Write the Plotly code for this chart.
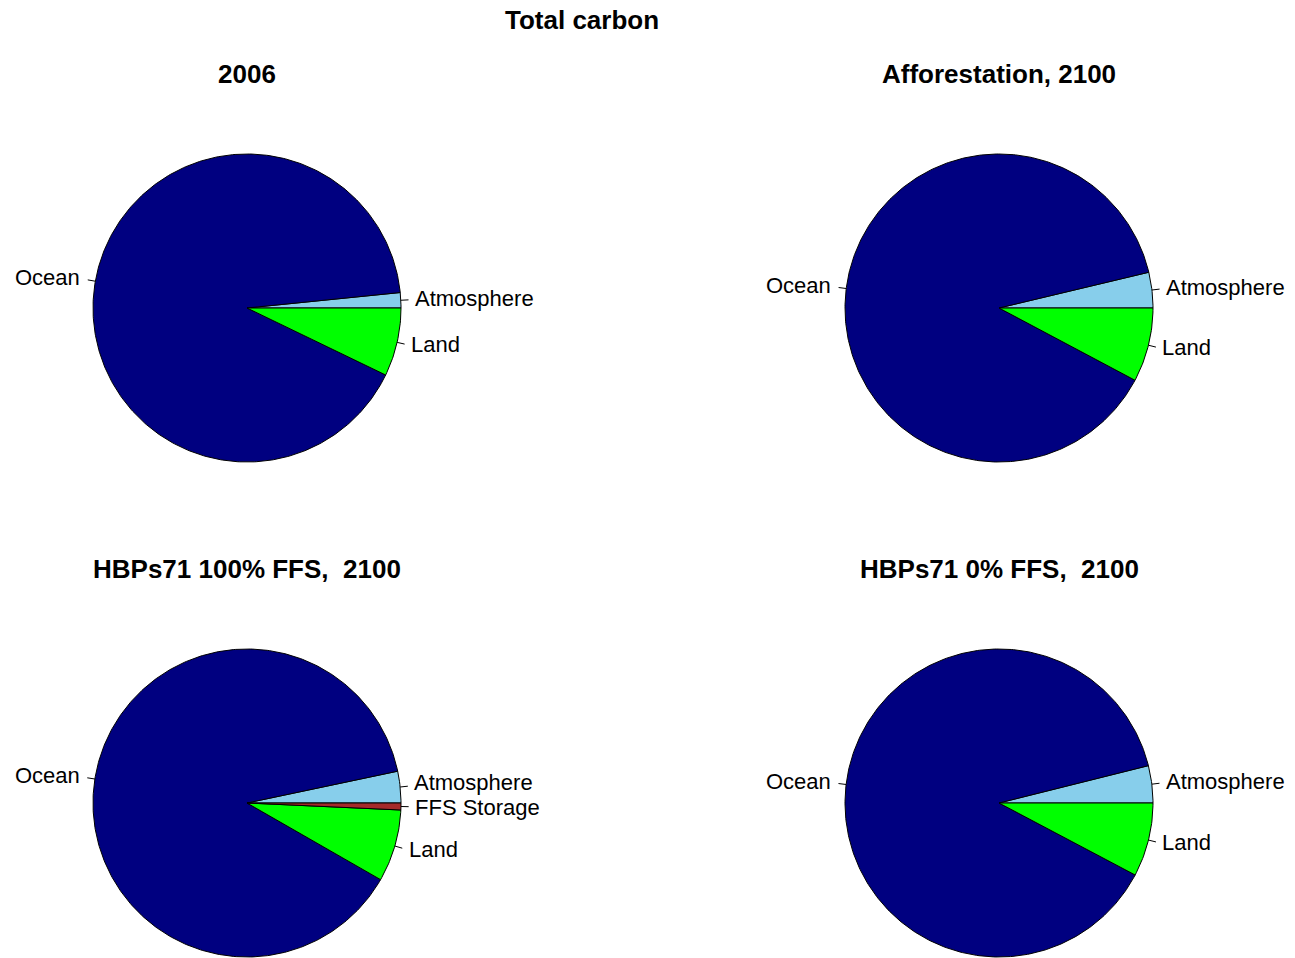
import numpy as np
import plotly.graph_objects as go

# carbon stocks (PgC), pie order is counterclockwise from 3 o'clock
titles = ["2006", "Afforestation, 2100", "HBPs71 100% FFS,  2100", "HBPs71 0% FFS,  2100"]
labels_3 = ["Atmosphere", "Ocean", "Land"]
labels_4 = ["Atmosphere", "Ocean", "Land", "FFS Storage"]
vals_2006 = [800, 45600, 3580]
vals_affor = [1900, 45100, 3960]
vals_hbp100 = [1690, 45100, 3860, 370]
vals_hbp0 = [1990, 45100, 3950]

colors = {"Atmosphere": "#87CEEB", "Ocean": "#000080", "Land": "#00FF00", "FFS Storage": "#A52A2A"}

W, H = 1295, 958
PX = 192.5          # pixels per unit (R pie uses radius 0.8 inside [-1, 1])
R = 0.8
MIN_GAP = 25        # px between label centres on the same side
FONT = "Liberation Sans, Arial, sans-serif"

panels = [
    (titles[0], labels_3, vals_2006, 247, 308),
    (titles[1], labels_3, vals_affor, 999, 308),
    (titles[2], labels_4, vals_hbp100, 247, 803),
    (titles[3], labels_3, vals_hbp0, 999, 803),
]

fig = go.Figure()
annotations = []
shapes = []

for i, (title, labs, vals, cx, cy) in enumerate(panels):
    n = i + 1
    xa = "x" if n == 1 else "x%d" % n
    ya = "y" if n == 1 else "y%d" % n
    ylo = -min(1.0, (H - cy) / PX)
    fig.update_layout(**{
        ("xaxis" if n == 1 else "xaxis%d" % n): dict(
            domain=[(cx - PX) / W, (cx + PX) / W], range=[-1, 1],
            visible=False, anchor=ya),
        ("yaxis" if n == 1 else "yaxis%d" % n): dict(
            domain=[max(0, 1 - (cy + PX) / H), 1 - (cy - PX) / H], range=[ylo, 1],
            visible=False, anchor=xa),
    })

    v = np.array(vals, dtype=float)
    cum = np.concatenate([[0], np.cumsum(v) / v.sum()]) * 2 * np.pi
    labpos = []
    for k, lab in enumerate(labs):
        a0, a1 = cum[k], cum[k + 1]
        t = np.linspace(a0, a1, max(3, int((a1 - a0) / (2 * np.pi) * 400)))
        px = np.concatenate([[0], R * np.cos(t), [0]])
        py = np.concatenate([[0], R * np.sin(t), [0]])
        fig.add_trace(go.Scatter(
            x=px, y=py, xaxis=xa, yaxis=ya, mode="lines", fill="toself",
            fillcolor=colors[lab], line=dict(color="black", width=1),
            hoverinfo="text", text=lab, showlegend=False))
        mid = (a0 + a1) / 2
        c, s = np.cos(mid), np.sin(mid)
        shapes.append(dict(type="line", xref=xa, yref=ya,
                           x0=R * c, y0=R * s, x1=1.05 * R * c, y1=1.05 * R * s,
                           line=dict(color="black", width=1)))
        labpos.append([lab, c, 1.1 * R * s * PX])

    # nudge crowded labels on the same side apart a little
    for side in (True, False):
        grp = sorted([p for p in labpos if (p[1] > 0) == side], key=lambda p: -p[2])
        for a, b in zip(grp, grp[1:]):
            gap = a[2] - b[2]
            if gap < MIN_GAP:
                a[2] += (MIN_GAP - gap) / 2
                b[2] -= (MIN_GAP - gap) / 2

    for lab, c, ypx in labpos:
        annotations.append(dict(
            x=1.1 * R * c, y=ypx / PX, xref=xa, yref=ya, text=lab,
            showarrow=False, xanchor="left" if c > 0 else "right", yanchor="middle",
            xshift=-2 if c > 0 else 1, yshift=1, borderpad=0,
            font=dict(size=22, color="black", family=FONT)))

    annotations.append(dict(
        x=cx / W, y=1 - (74 if cy < 500 else 569) / H, xref="paper", yref="paper",
        text="<b>%s</b>" % title, showarrow=False, xanchor="center", yanchor="middle",
        font=dict(size=26, color="black", family=FONT)))

annotations.append(dict(
    x=582 / W, y=1 - 20 / H, xref="paper", yref="paper", text="<b>Total carbon</b>",
    showarrow=False, xanchor="center", yanchor="middle",
    font=dict(size=26, color="black", family=FONT)))

fig.update_layout(
    width=W, height=H, autosize=False,
    margin=dict(l=0, r=0, t=0, b=0),
    paper_bgcolor="white", plot_bgcolor="white",
    annotations=annotations, shapes=shapes,
)

# page body has a default 8px margin; drop it so the figure fills the window
fig.write_html("out.html", config={"displayModeBar": False},
               post_script="document.body.style.margin='0';document.body.style.overflow='hidden';")
